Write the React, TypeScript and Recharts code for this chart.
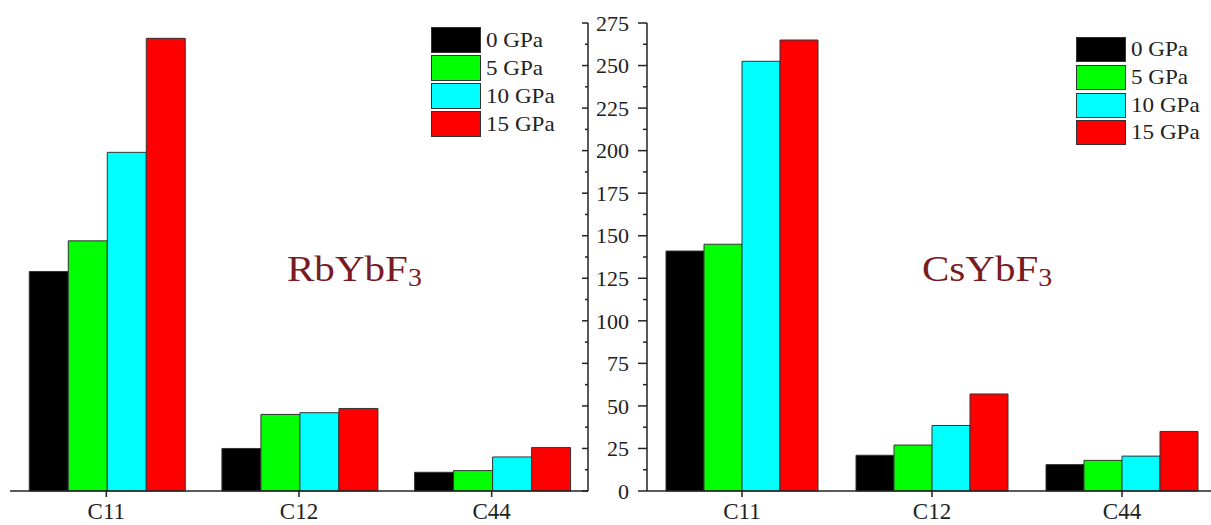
import React from "react";
import { Bar, BarChart, Legend, XAxis, YAxis } from "recharts";

const categories = ["C11", "C12", "C44"];
const pressures = ["0 GPa", "5 GPa", "10 GPa", "15 GPa"];
const colors = ["#000000", "#00ff00", "#00ffff", "#ff0000"];

// RbYbF3 elastic constants (GPa)
const rb0 = [129, 25, 11];
const rb5 = [147, 45, 12];
const rb10 = [199, 46, 20];
const rb15 = [266, 48.5, 25.5];

// CsYbF3 elastic constants (GPa)
const cs0 = [141, 21, 15.5];
const cs5 = [145, 27, 18];
const cs10 = [252.5, 38.5, 20.5];
const cs15 = [265, 57, 35];

const yTicks = Array.from({ length: 23 }, (_, i) => i * 12.5);

const SERIF = "'Liberation Serif', 'Times New Roman', Times, serif";
const INK = "#222";

const buildRows = (series: number[][]) =>
  categories.map((name, i) => {
    const row: Record<string, string | number> = { name };
    pressures.forEach((p, j) => {
      row[p] = series[j][i];
    });
    return row;
  });

const rbData = buildRows([rb0, rb5, rb10, rb15]);
const csData = buildRows([cs0, cs5, cs10, cs15]);

// inner ticks on the left panel's right frame, no labels
const InnerTick = (props: any) => {
  const { x, y, payload } = props;
  const major = payload.value % 25 === 0;
  return <line x1={x} x2={x - (major ? 6 : 3)} y1={y} y2={y} stroke={INK} strokeWidth={1.5} />;
};

// outward ticks plus labels on the right panel's y axis
const LabelTick = (props: any) => {
  const { x, y, payload } = props;
  const major = payload.value % 25 === 0;
  return (
    <g>
      <line x1={x} x2={x - (major ? 9 : 4)} y1={y} y2={y} stroke={INK} strokeWidth={1.5} />
      {major && (
        <text
          x={x - 18}
          y={y}
          dy="0.35em"
          textAnchor="end"
          fontFamily={SERIF}
          fontSize={22}
          fill={INK}
        >
          {payload.value}
        </text>
      )}
    </g>
  );
};

const CatTick = (props: any) => {
  const { x, y, payload } = props;
  return (
    <text
      x={x}
      y={y + 11}
      textAnchor="middle"
      fontFamily={SERIF}
      fontSize={23}
      fill={INK}
    >
      {payload.value}
    </text>
  );
};

const makeLegend = (rowGap: number, boxH: number) => () => (
  <div>
    {pressures.map((p, i) => (
      <div key={p} style={{ display: "flex", alignItems: "center", height: rowGap }}>
        <span
          style={{
            display: "inline-block",
            width: 48,
            height: boxH,
            background: colors[i],
            border: "1px solid #333",
          }}
        />
        <span
          style={{
            fontFamily: SERIF,
            fontSize: 21,
            color: INK,
            marginLeft: 5,
            display: "inline-block",
            transform: "scaleX(1.1)",
            transformOrigin: "left center",
            whiteSpace: "nowrap",
          }}
        >
          {p}
        </span>
      </div>
    ))}
  </div>
);

const Title = ({ left, text }: { left: number; text: string }) => (
  <div
    style={{
      position: "absolute",
      left,
      top: 251,
      fontFamily: SERIF,
      fontSize: 36,
      lineHeight: 1,
      color: "#7a1a22",
      transform: "scaleX(1.14)",
      transformOrigin: "left top",
      whiteSpace: "nowrap",
    }}
  >
    {text}
    <span style={{ fontSize: "0.68em", position: "relative", top: "0.2em" }}>3</span>
  </div>
);

export default function App() {
  return (
    <div
      style={{
        position: "absolute",
        left: 0,
        top: 0,
        width: 1211,
        height: 525,
        overflow: "hidden",
        background: "#fff",
      }}
    >
      <div style={{ position: "absolute", left: 0, top: 0 }}>
        <BarChart
          width={600}
          height={525}
          data={rbData}
          margin={{ top: 23, right: 0, bottom: 0, left: 10 }}
          barGap={0}
          barCategoryGap="10%"
        >
          <XAxis
            dataKey="name"
            height={34}
            interval={0}
            tickSize={6}
            tickMargin={11}
            tick={<CatTick />}
            axisLine={{ stroke: INK, strokeWidth: 1.5 }}
            tickLine={{ stroke: INK, strokeWidth: 1.5 }}
          />
          <YAxis
            orientation="right"
            width={12}
            domain={[0, 275]}
            ticks={yTicks}
            interval={0}
            tickSize={0}
            tickMargin={0}
            tickLine={false}
            tick={<InnerTick />}
            axisLine={{ stroke: INK, strokeWidth: 1.5 }}
          />
          <Legend
            layout="vertical"
            align="center"
            verticalAlign="middle"
            content={makeLegend(28, 24)}
            wrapperStyle={{ left: 431, top: 26, width: 140 }}
          />
          {pressures.map((p, i) => (
            <Bar
              key={p}
              dataKey={p}
              fill={colors[i]}
              stroke="#333"
              strokeWidth={1}
              isAnimationActive={false}
            />
          ))}
        </BarChart>
      </div>
      <div style={{ position: "absolute", left: 590, top: 0 }}>
        <BarChart
          width={627}
          height={525}
          data={csData}
          margin={{ top: 23, right: 0, bottom: 0, left: 0 }}
          barGap={0}
          barCategoryGap="10%"
        >
          <XAxis
            dataKey="name"
            height={34}
            interval={0}
            tickSize={6}
            tickMargin={11}
            tick={<CatTick />}
            axisLine={{ stroke: INK, strokeWidth: 1.5 }}
            tickLine={{ stroke: INK, strokeWidth: 1.5 }}
          />
          <YAxis
            orientation="left"
            width={57}
            domain={[0, 275]}
            ticks={yTicks}
            interval={0}
            tickSize={0}
            tickMargin={0}
            tickLine={false}
            tick={<LabelTick />}
            axisLine={{ stroke: INK, strokeWidth: 1.5 }}
          />
          <Legend
            layout="vertical"
            align="center"
            verticalAlign="middle"
            content={makeLegend(27.7, 23)}
            wrapperStyle={{ left: 486, top: 36, width: 140 }}
          />
          {pressures.map((p, i) => (
            <Bar
              key={p}
              dataKey={p}
              fill={colors[i]}
              stroke="#333"
              strokeWidth={1}
              isAnimationActive={false}
            />
          ))}
        </BarChart>
      </div>
      <Title left={287} text="RbYbF" />
      <Title left={922} text="CsYbF" />
    </div>
  );
}
